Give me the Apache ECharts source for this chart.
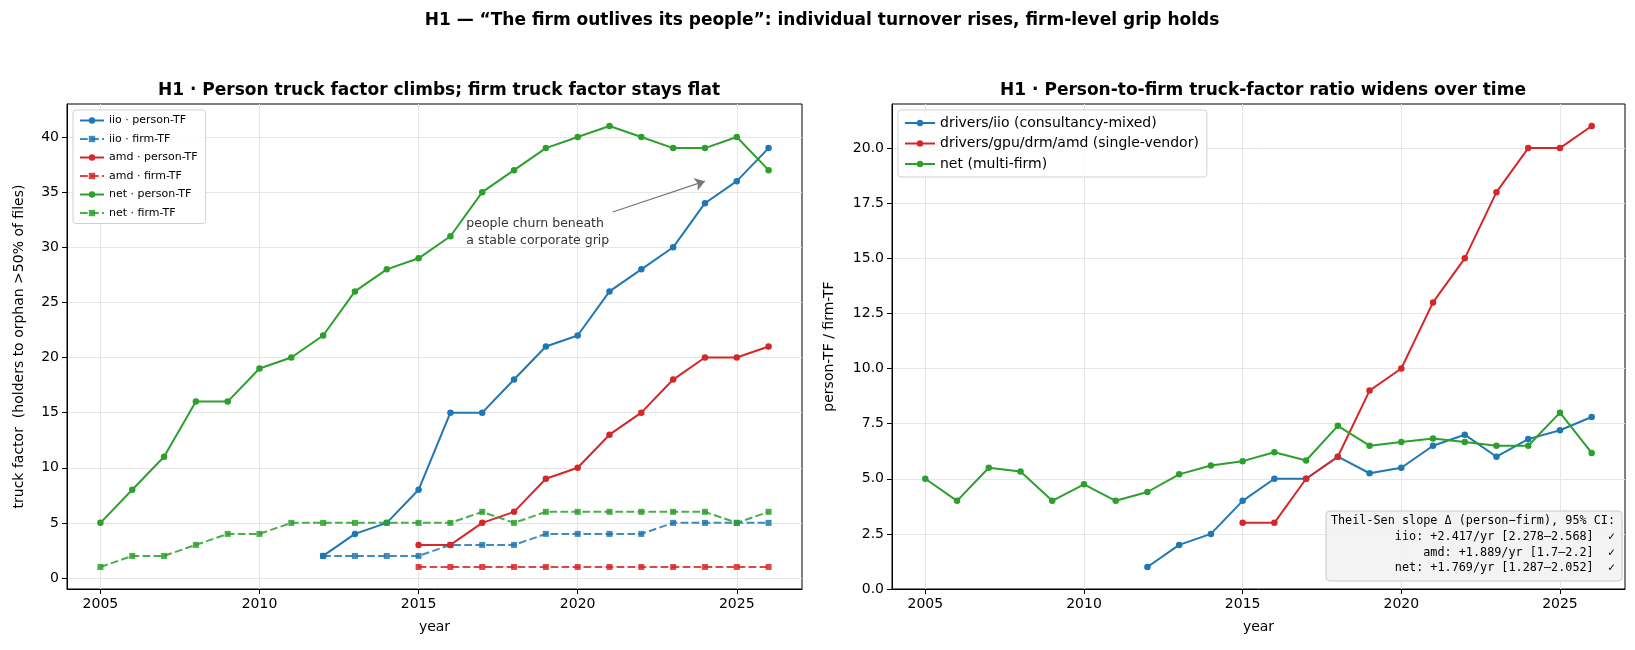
<!DOCTYPE html>
<html>
<head>
<meta charset="utf-8">
<script src="https://cdn.jsdelivr.net/npm/echarts@6/dist/echarts.min.js"></script>
<style>
  html, body { margin: 0; padding: 0; background: #fff; }
  #chart { width: 1635px; height: 650px; }
</style>
</head>
<body>
<div id="chart"></div>
<script>
// ---- data ----
const netYears = [2005, 2006, 2007, 2008, 2009, 2010, 2011, 2012, 2013, 2014, 2015, 2016, 2017, 2018, 2019, 2020, 2021, 2022, 2023, 2024, 2025, 2026]
const iioYears = [2012, 2013, 2014, 2015, 2016, 2017, 2018, 2019, 2020, 2021, 2022, 2023, 2024, 2025, 2026]
const amdYears = [2015, 2016, 2017, 2018, 2019, 2020, 2021, 2022, 2023, 2024, 2025, 2026]

const iioPerson = [2, 4, 5, 8, 15, 15, 18, 21, 22, 26, 28, 30, 34, 36, 39]
const iioFirm = [2, 2, 2, 2, 3, 3, 3, 4, 4, 4, 4, 5, 5, 5, 5]
const amdPerson = [3, 3, 5, 6, 9, 10, 13, 15, 18, 20, 20, 21]
const amdFirm = [1, 1, 1, 1, 1, 1, 1, 1, 1, 1, 1, 1]
const netPerson = [5, 8, 11, 16, 16, 19, 20, 22, 26, 28, 29, 31, 35, 37, 39, 40, 41, 40, 39, 39, 40, 37]
const netFirm = [1, 2, 2, 3, 4, 4, 5, 5, 5, 5, 5, 5, 6, 5, 6, 6, 6, 6, 6, 6, 5, 6]

const iioRatio = [1, 2, 2.5, 4, 5, 5, 6, 5.25, 5.5, 6.5, 7, 6, 6.8, 7.2, 7.8]
const amdRatio = [3, 3, 5, 6, 9, 10, 13, 15, 18, 20, 20, 21]
const netRatio = [5, 4, 5.5, 5.33, 4, 4.75, 4, 4.4, 5.2, 5.6, 5.8, 6.2, 5.83, 7.4, 6.5, 6.67, 6.83, 6.67, 6.5, 6.5, 8, 6.17]

const yearTicks = [2005, 2010, 2015, 2020, 2025]
const leftTicks = [0, 5, 10, 15, 20, 25, 30, 35, 40]
const rightTicks = [0, 2.5, 5, 7.5, 10, 12.5, 15, 17.5, 20]

const statLines = [
  'Theil-Sen slope Δ (person−firm), 95% CI:',
  'iio: +2.417/yr [2.278–2.568]  ✓',
  'amd: +1.889/yr [1.7–2.2]  ✓',
  'net: +1.769/yr [1.287–2.052]  ✓'
]

const BLUE = '#1f77b4'
const RED = '#d62728'
const GREEN = '#2ca02c'
const FONT = 'DejaVu Sans'

const zip = (xs, ys) => xs.map((x, i) => [x, ys[i]])

const chart = echarts.init(document.getElementById('chart'), null, { renderer: 'canvas' })

const xAxisBase = (gridIndex) => ({
  type: 'value',
  gridIndex,
  min: 2003.95,
  max: 2027.05,
  name: 'year',
  nameLocation: 'middle',
  nameGap: 31,
  nameTextStyle: { color: '#000', fontSize: 14, fontFamily: FONT },
  axisLine: { show: true, onZero: false, lineStyle: { color: '#000', width: 1 } },
  axisTick: { show: true, inside: false, length: 5, customValues: yearTicks, lineStyle: { color: '#000' } },
  axisLabel: { customValues: yearTicks, color: '#000', fontSize: 14, fontFamily: FONT, margin: 8, formatter: v => String(v) },
  splitLine: { show: true, lineStyle: { color: '#e6e6e6', width: 1 } }
})

const lineSeries = (name, xi, yi, data, color, dashed, symbol) => ({
  name,
  type: 'line',
  xAxisIndex: xi,
  yAxisIndex: yi,
  data,
  symbol,
  symbolSize: symbol === 'rect' ? 6 : 6.5,
  showSymbol: true,
  animation: false,
  lineStyle: { color, width: 2, type: dashed ? [7.7, 3.3] : 'solid', opacity: dashed ? 0.85 : 1 },
  itemStyle: { color, opacity: dashed ? 0.85 : 1 },
  emphasis: { disabled: true }
})

const option = {
  animation: false,
  title: [
    {
      text: 'H1 — “The firm outlives its people”: individual turnover rises, firm-level grip holds',
      left: 817, top: 7, textAlign: 'center',
      textStyle: { fontSize: 17, fontWeight: 'bold', fontFamily: FONT, color: '#000' }
    },
    {
      text: 'H1 · Person truck factor climbs; firm truck factor stays flat',
      left: 434, top: 77, textAlign: 'center',
      textStyle: { fontSize: 17, fontWeight: 'bold', fontFamily: FONT, color: '#000' }
    },
    {
      text: 'H1 · Person-to-firm truck-factor ratio widens over time',
      left: 1258, top: 77, textAlign: 'center',
      textStyle: { fontSize: 17, fontWeight: 'bold', fontFamily: FONT, color: '#000' }
    }
  ],
  grid: [
    { left: 67, top: 104, width: 735, height: 485, show: true, borderColor: '#000', borderWidth: 1, backgroundColor: 'transparent' },
    { left: 892, top: 104, width: 733, height: 485, show: true, borderColor: '#000', borderWidth: 1, backgroundColor: 'transparent' }
  ],
  xAxis: [xAxisBase(0), xAxisBase(1)],
  yAxis: [
    {
      type: 'value', gridIndex: 0, min: -1, max: 43,
      name: 'truck factor  (holders to orphan >50% of files)',
      nameLocation: 'middle', nameGap: 41,
      nameTextStyle: { color: '#000', fontSize: 14, fontFamily: FONT },
      axisLine: { show: true, onZero: false, lineStyle: { color: '#000', width: 1 } },
      axisTick: { show: true, length: 5, customValues: leftTicks, lineStyle: { color: '#000' } },
      axisLabel: { customValues: leftTicks, color: '#000', fontSize: 14, fontFamily: FONT, margin: 8 },
      splitLine: { show: true, lineStyle: { color: '#e6e6e6', width: 1 } }
    },
    {
      type: 'value', gridIndex: 1, min: 0, max: 22,
      name: 'person-TF / firm-TF',
      nameLocation: 'middle', nameGap: 56,
      nameTextStyle: { color: '#000', fontSize: 14, fontFamily: FONT },
      axisLine: { show: true, onZero: false, lineStyle: { color: '#000', width: 1 } },
      axisTick: { show: true, length: 5, customValues: rightTicks, lineStyle: { color: '#000' } },
      axisLabel: { customValues: rightTicks, color: '#000', fontSize: 14, fontFamily: FONT, margin: 8, formatter: v => v.toFixed(1) },
      splitLine: { show: true, lineStyle: { color: '#e6e6e6', width: 1 } }
    }
  ],
  legend: [
    {
      orient: 'vertical', left: 73, top: 110,
      data: ['iio · person-TF', 'iio · firm-TF', 'amd · person-TF', 'amd · firm-TF', 'net · person-TF', 'net · firm-TF'],
      itemWidth: 24, itemHeight: 8, itemGap: 7.5,
      padding: [5, 8, 5, 6],
      backgroundColor: 'rgba(255,255,255,0.85)', borderColor: '#d0d0d0', borderWidth: 1, borderRadius: 3,
      textStyle: { fontSize: 11, fontFamily: FONT, color: '#000' }
    },
    {
      orient: 'vertical', left: 898, top: 110,
      data: ['drivers/iio (consultancy-mixed)', 'drivers/gpu/drm/amd (single-vendor)', 'net (multi-firm)'],
      itemWidth: 30, itemHeight: 8, itemGap: 6.5,
      padding: [6, 8, 6, 6],
      backgroundColor: 'rgba(255,255,255,0.85)', borderColor: '#d0d0d0', borderWidth: 1, borderRadius: 3,
      textStyle: { fontSize: 14, fontFamily: FONT, color: '#000' }
    }
  ],
  series: [
    lineSeries('iio · person-TF', 0, 0, zip(iioYears, iioPerson), BLUE, false, 'circle'),
    lineSeries('iio · firm-TF', 0, 0, zip(iioYears, iioFirm), BLUE, true, 'rect'),
    lineSeries('amd · person-TF', 0, 0, zip(amdYears, amdPerson), RED, false, 'circle'),
    lineSeries('amd · firm-TF', 0, 0, zip(amdYears, amdFirm), RED, true, 'rect'),
    Object.assign(lineSeries('net · person-TF', 0, 0, zip(netYears, netPerson), GREEN, false, 'circle'), {
      markLine: {
        silent: true,
        symbol: ['none', 'arrow'],
        symbolSize: 10,
        lineStyle: { color: '#777', width: 1.2, type: 'solid', opacity: 1 },
        itemStyle: { color: '#777' },
        label: { show: false },
        data: [[{ coord: [2021.1, 33.2], symbol: 'none' }, { coord: [2024, 36], symbol: 'arrow', symbolSize: 10 }]]
      },
      markPoint: {
        silent: true,
        symbol: 'circle',
        symbolSize: 0,
        data: [{
          coord: [2016.5, 29.8],
          label: {
            show: true,
            position: [0, 0],
            align: 'left',
            verticalAlign: 'bottom',
            formatter: 'people churn beneath\na stable corporate grip',
            color: '#333',
            fontSize: 12.5,
            lineHeight: 17,
            fontFamily: FONT
          }
        }]
      }
    }),
    lineSeries('net · firm-TF', 0, 0, zip(netYears, netFirm), GREEN, true, 'rect'),

    lineSeries('drivers/iio (consultancy-mixed)', 1, 1, zip(iioYears, iioRatio), BLUE, false, 'circle'),
    lineSeries('drivers/gpu/drm/amd (single-vendor)', 1, 1, zip(amdYears, amdRatio), RED, false, 'circle'),
    lineSeries('net (multi-firm)', 1, 1, zip(netYears, netRatio), GREEN, false, 'circle')
  ],
  graphic: [
    {
      type: 'rect',
      shape: { x: 1326, y: 511, width: 296, height: 70, r: 4 },
      style: { fill: 'rgba(242,242,242,0.92)', stroke: '#c8c8c8', lineWidth: 1 },
      z: 100
    }
  ].concat(statLines.map((line, i) => ({
    type: 'text',
    style: {
      x: 1615, y: 515 + i * 15.8,
      text: line,
      align: 'right',
      verticalAlign: 'top',
      font: '11.8px "DejaVu Sans Mono"',
      fill: '#000'
    },
    z: 101
  })))
}

chart.setOption(option)
</script>
</body>
</html>
